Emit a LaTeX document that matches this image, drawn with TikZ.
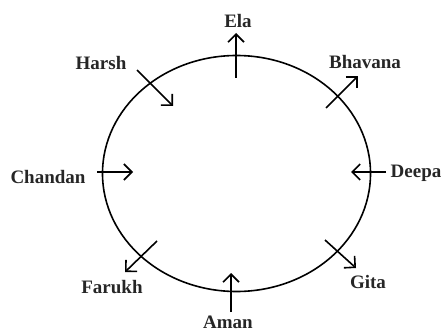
\documentclass[tikz,border=0pt]{standalone}
\usepackage{fontspec}
\setmainfont{Liberation Serif}
\usetikzlibrary{arrows.meta}
\begin{document}
\begin{tikzpicture}[x=1pt,y=-1pt,
  lbl/.style={font=\bfseries\fontsize{19}{21}\selectfont, inner sep=0pt, text=black!85},
  arr/.style={line width=1.6pt, -{Straight Barb[length=8pt,width=16pt,line width=1.6pt]}}]
\useasboundingbox (0,0) rectangle (446,331);
\draw[line width=1.6pt] (236.5,173.5) ellipse [x radius=134, y radius=118];
% labels
\node[lbl] (ela) at (238,21) {Ela};
\node[lbl] (harsh) at (101,63) {Harsh};
\node[lbl] (bhavana) at (365,62) {Bhavana};
\node[lbl] (chandan) at (48,177) {Chandan};
\node[lbl] (deepa) at (416,173) {Deepa};
\node[lbl] (farukh) at (112,287) {Farukh};
\node[lbl] (aman) at (228,322) {Aman};
\node[lbl] (gita) at (368,282) {Gita};
% arrow ends
\coordinate (e1) at (236,78);  \coordinate (e2) at (236,33);
\coordinate (h1) at (137,70);  \coordinate (h2) at (173,106);
\coordinate (b1) at (326,108); \coordinate (b2) at (358,76);
\coordinate (c1) at (97,172);  \coordinate (c2) at (133,172);
\coordinate (d1) at (386,172); \coordinate (d2) at (351,172);
\coordinate (f1) at (157,241); \coordinate (f2) at (125,272);
\coordinate (a1) at (231,312); \coordinate (a2) at (231,273);
\coordinate (g1) at (325,240); \coordinate (g2) at (356,268);
\draw[arr] (e1) -- (e2);
\draw[arr] (h1) -- (h2);
\draw[arr] (b1) -- (b2);
\draw[arr] (c1) -- (c2);
\draw[arr] (d1) -- (d2);
\draw[arr] (f1) -- (f2);
\draw[arr] (a1) -- (a2);
\draw[arr] (g1) -- (g2);
\end{tikzpicture}
\end{document}
